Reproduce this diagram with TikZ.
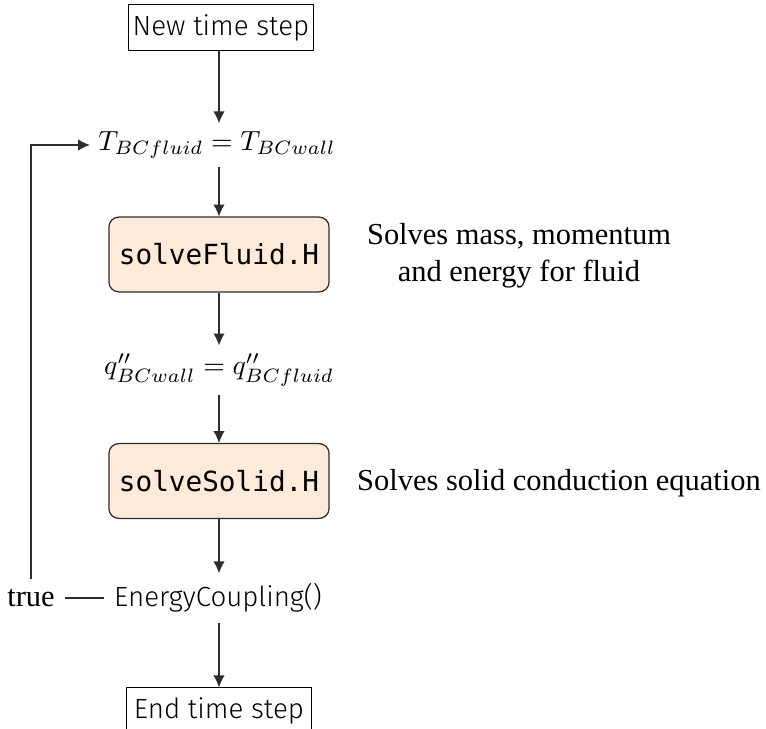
\documentclass[tikz,border=0pt]{standalone}
\usepackage{fontspec}
\setmainfont{Liberation Serif}
\setsansfont{Fira Sans}[UprightFont={* Light}]
\setmonofont{DejaVu Sans Mono}
\usetikzlibrary{arrows.meta}
\definecolor{boxfill}{RGB}{253,234,216}
\definecolor{edge}{RGB}{45,45,45}

\begin{document}
\begin{tikzpicture}[x=0.361pt,y=-0.361pt,
  flow/.style={draw=edge, line width=0.45pt, -{Latex[length=4.3pt,width=4.1pt]}},
  plainline/.style={draw=edge, line width=0.45pt},
  termbox/.style={draw=black, line width=0.4pt, font=\sffamily, minimum width=67pt, minimum height=16.3pt, inner sep=0pt},
  codebox/.style={draw=edge, fill=boxfill, rounded corners=3.6pt, line width=0.45pt, font=\ttfamily, minimum width=79.5pt, minimum height=27pt, inner sep=0pt},
  eqn/.style={inner sep=2.8pt},
  note/.style={font=\fontsize{11}{13.5}\selectfont, align=center}]
\useasboundingbox (0,0) rectangle (766,729);

% main column
\node[termbox] (start) at (221,27.5) {New time step};
\node[eqn] (teq) at (217,145) {$T_{BCfluid} = T_{BCwall}$};
\node[codebox] (fluid) at (219,254.5) {solveFluid.H};
\node[eqn] (qeq) at (219,370) {$q''_{BCwall} = q''_{BCfluid}$};
\node[codebox] (solid) at (219,481) {solveSolid.H};
\node[font=\sffamily, inner sep=3.5pt] (ec) at (218,598) {EnergyCoupling()};
\node[termbox] (stop) at (219,710.5) {End time step};

% side notes
\node[note] (fnote) at (519,256) {Solves mass, momentum\\and energy for fluid};
\node[note] (snote) at (559,483) {Solves solid conduction equation};

% loop-back label
\node[note, inner sep=3.5pt] (true) at (31,598) {true};

% connectors
\draw[flow] (start.south -| fluid) -- (teq.north -| fluid);
\draw[flow] (teq.south -| fluid) -- (fluid.north);
\draw[flow] (fluid.south) -- (qeq.north -| fluid);
\draw[flow] (qeq.south -| fluid) -- (solid.north);
\draw[flow] (solid.south) -- (ec.north -| solid);
\draw[flow] (ec.south -| solid) -- (stop.north);
\draw[plainline] (true.east) -- (ec.west);
\draw[flow] (true.north) |- (teq.west);
\end{tikzpicture}
\end{document}
